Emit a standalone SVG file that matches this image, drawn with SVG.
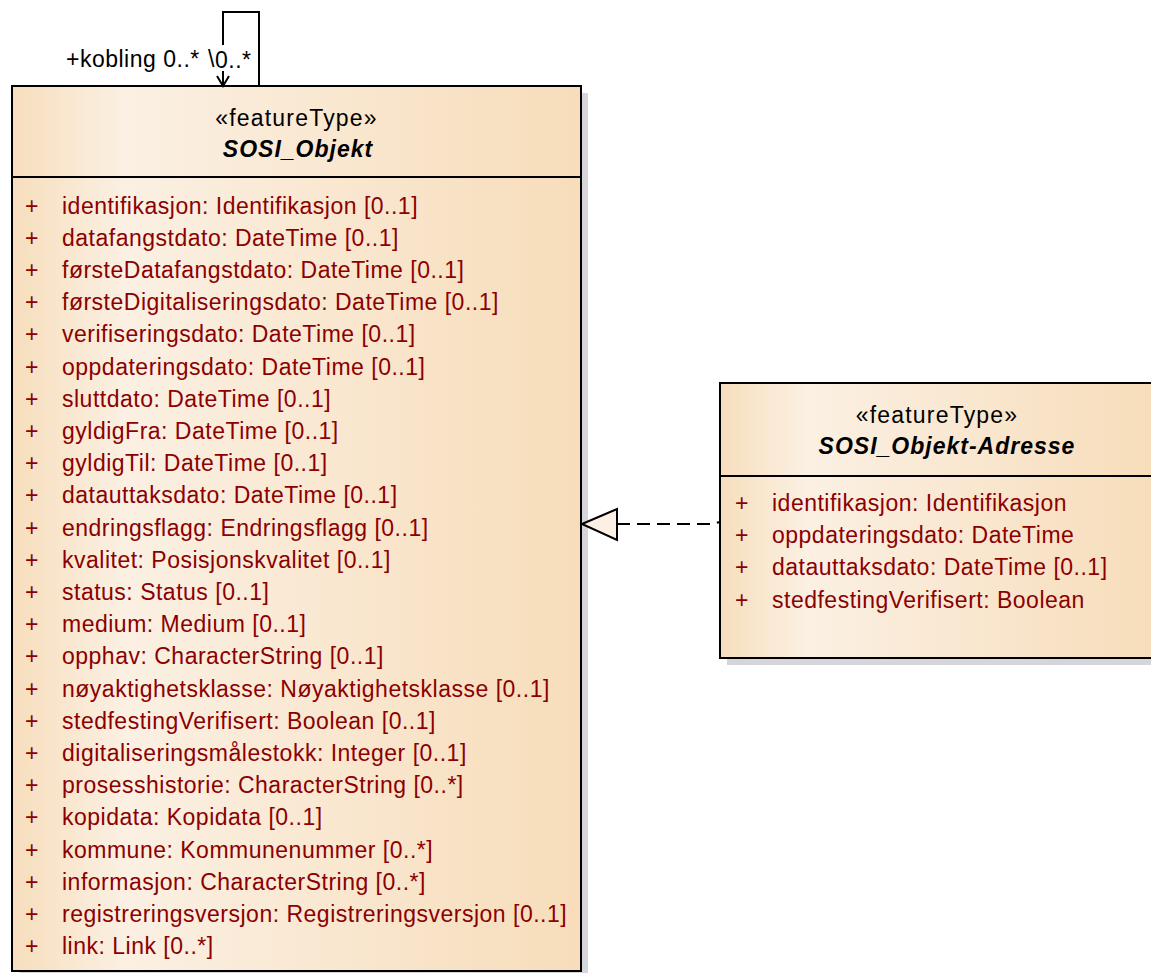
<svg xmlns="http://www.w3.org/2000/svg" width="1151" height="973" viewBox="0 0 1151 973">
<defs>
<linearGradient id="fill" x1="0" y1="0" x2="1" y2="0">
<stop offset="0" stop-color="#F7DEBD"/>
<stop offset="0.2" stop-color="#FBF0E3"/>
<stop offset="1" stop-color="#F7DDBA"/>
</linearGradient>
<style>
text{font-family:"Liberation Sans",Arial,sans-serif;font-size:23px;letter-spacing:0.5px}
.st{fill:#000;text-anchor:middle;letter-spacing:1.2px}
.nm{fill:#000;text-anchor:middle;font-weight:bold;font-style:italic;font-size:23px;letter-spacing:1px}
.at{fill:#8B0000}
.box{fill:url(#fill);stroke:#000;stroke-width:2}
.sh{fill:#D6D6DA}
.sep{stroke:#000;stroke-width:2}
.ln{fill:none;stroke:#000;stroke-width:2}
.lb{fill:#000}
</style>
</defs>
<rect width="1151" height="973" fill="#fff"/>
<g id="SOSI_Objekt">
<rect class="sh" x="19" y="93" width="569" height="885"/>
<rect class="box" x="12" y="86" width="569" height="885"/>
<line class="sep" x1="12" y1="177" x2="581" y2="177"/>
<text class="st" x="296.5" y="126">«featureType»</text>
<text class="nm" x="298" y="157">SOSI_Objekt</text>
<g class="at">
<text x="25" y="213.5">+</text><text x="62" y="213.5">identifikasjon: Identifikasjon [0..1]</text>
<text x="25" y="245.7">+</text><text x="62" y="245.7">datafangstdato: DateTime [0..1]</text>
<text x="25" y="277.9">+</text><text x="62" y="277.9">førsteDatafangstdato: DateTime [0..1]</text>
<text x="25" y="310.1">+</text><text x="62" y="310.1">førsteDigitaliseringsdato: DateTime [0..1]</text>
<text x="25" y="342.3">+</text><text x="62" y="342.3">verifiseringsdato: DateTime [0..1]</text>
<text x="25" y="374.5">+</text><text x="62" y="374.5">oppdateringsdato: DateTime [0..1]</text>
<text x="25" y="406.7">+</text><text x="62" y="406.7">sluttdato: DateTime [0..1]</text>
<text x="25" y="438.9">+</text><text x="62" y="438.9">gyldigFra: DateTime [0..1]</text>
<text x="25" y="471.1">+</text><text x="62" y="471.1">gyldigTil: DateTime [0..1]</text>
<text x="25" y="503.3">+</text><text x="62" y="503.3">datauttaksdato: DateTime [0..1]</text>
<text x="25" y="535.5">+</text><text x="62" y="535.5">endringsflagg: Endringsflagg [0..1]</text>
<text x="25" y="567.7">+</text><text x="62" y="567.7">kvalitet: Posisjonskvalitet [0..1]</text>
<text x="25" y="599.9">+</text><text x="62" y="599.9">status: Status [0..1]</text>
<text x="25" y="632.1">+</text><text x="62" y="632.1">medium: Medium [0..1]</text>
<text x="25" y="664.3">+</text><text x="62" y="664.3">opphav: CharacterString [0..1]</text>
<text x="25" y="696.5">+</text><text x="62" y="696.5">nøyaktighetsklasse: Nøyaktighetsklasse [0..1]</text>
<text x="25" y="728.7">+</text><text x="62" y="728.7">stedfestingVerifisert: Boolean [0..1]</text>
<text x="25" y="760.9">+</text><text x="62" y="760.9">digitaliseringsmålestokk: Integer [0..1]</text>
<text x="25" y="793.1">+</text><text x="62" y="793.1">prosesshistorie: CharacterString [0..*]</text>
<text x="25" y="825.3">+</text><text x="62" y="825.3">kopidata: Kopidata [0..1]</text>
<text x="25" y="857.5">+</text><text x="62" y="857.5">kommune: Kommunenummer [0..*]</text>
<text x="25" y="889.7">+</text><text x="62" y="889.7">informasjon: CharacterString [0..*]</text>
<text x="25" y="921.9">+</text><text x="62" y="921.9">registreringsversjon: Registreringsversjon [0..1]</text>
<text x="25" y="954.1">+</text><text x="62" y="954.1">link: Link [0..*]</text>
</g>
</g>
<g id="SOSI_Objekt-Adresse">
<rect class="sh" x="727" y="390" width="434" height="275"/>
<rect class="box" x="720" y="383" width="434" height="275"/>
<line class="sep" x1="720" y1="476" x2="1154" y2="476"/>
<text class="st" x="937" y="423">«featureType»</text>
<text class="nm" x="947" y="454">SOSI_Objekt-Adresse</text>
<g class="at">
<text x="735" y="511">+</text><text x="772" y="511">identifikasjon: Identifikasjon</text>
<text x="735" y="543.2">+</text><text x="772" y="543.2">oppdateringsdato: DateTime</text>
<text x="735" y="575.4">+</text><text x="772" y="575.4">datauttaksdato: DateTime [0..1]</text>
<text x="735" y="607.6">+</text><text x="772" y="607.6">stedfestingVerifisert: Boolean</text>
</g>
</g>
<g id="connectors">
<path class="ln" d="M223,45 V12 H259 V86"/>
<path class="ln" d="M223,71 V86 M217,76 L223,86 L229,76"/>
<text class="lb" x="66" y="67">+kobling 0..*</text>
<text class="lb" x="208" y="67">\</text>
<text class="lb" x="215" y="68">0..*</text>
<path class="ln" d="M617,524 H712 L720,522" stroke-dasharray="13 7"/>
<polygon points="582,524 617,509 617,540" fill="#FBF0E3" stroke="#000" stroke-width="2"/>
</g>
</svg>
